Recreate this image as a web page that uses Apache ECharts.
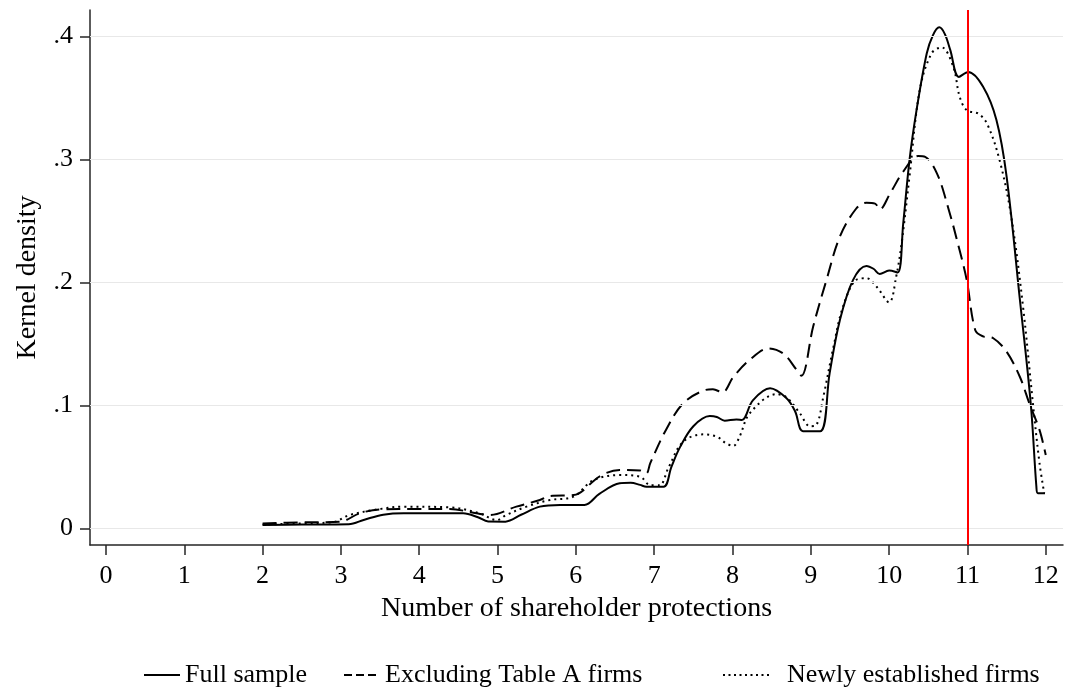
<!DOCTYPE html>
<html>
<head>
<meta charset="utf-8">
<script src="https://cdn.jsdelivr.net/npm/echarts@6/dist/echarts.min.js"></script>
<style>
html,body{margin:0;padding:0;background:#fff;}
#chart{width:1065px;height:691px;}
</style>
</head>
<body>
<div id="chart"></div>
<script>
// ---- data ----
const xTicks = [0,1,2,3,4,5,6,7,8,9,10,11,12];
const yTicks = [0,0.1,0.2,0.3,0.4];
const yTickLabels = ['0','.1','.2','.3','.4'];
const refLineX = 11;
const seriesNames = ['Full sample','Excluding Table A firms','Newly established firms'];

const fullSample = [
 [2.0,0.0027],[2.5,0.003],[3.1,0.0033],[3.3,0.007],[3.54,0.011],[3.8,0.0122],[4.2,0.0122],[4.56,0.0122],
 [4.75,0.009],[4.88,0.0055],[5.1,0.0054],[5.3,0.011],[5.54,0.0176],[5.8,0.019],[6.11,0.019],[6.3,0.028],
 [6.56,0.0366],[6.7,0.037],[6.82,0.0353],[6.9,0.0338],[7.12,0.0338],[7.22,0.05],[7.33,0.066],[7.5,0.083],
 [7.71,0.0913],[7.8,0.0905],[7.9,0.0875],[8.05,0.0885],[8.12,0.088],[8.26,0.104],[8.48,0.1138],[8.69,0.1057],
 [8.8,0.095],[8.9,0.079],[9.12,0.079],[9.24,0.126],[9.37,0.169],[9.54,0.202],[9.71,0.2133],[9.8,0.211],
 [9.88,0.2068],[10.0,0.2095],[10.11,0.208],[10.18,0.248],[10.26,0.2994],[10.35,0.34],[10.48,0.386],
 [10.56,0.401],[10.64,0.4073],[10.71,0.402],[10.78,0.389],[10.89,0.367],[11.01,0.371],[11.2,0.359],
 [11.37,0.332],[11.5,0.286],[11.67,0.1856],[11.81,0.10],[11.88,0.034],[11.9,0.0285],[11.99,0.0285]
];
const excludingTableA = [
 [2.0,0.004],[2.5,0.0048],[2.99,0.0054],[3.24,0.0122],[3.5,0.0154],[4.0,0.0157],[4.39,0.0157],[4.73,0.0122],
 [4.9,0.0108],[5.24,0.0176],[5.54,0.023],[5.67,0.0263],[5.97,0.027],[6.31,0.0425],[6.56,0.0474],[6.82,0.047],
 [6.9,0.0447],[6.95,0.053],[7.15,0.08],[7.37,0.1016],[7.63,0.112],[7.75,0.113],[7.87,0.1105],[8.01,0.123],
 [8.22,0.137],[8.46,0.1463],[8.65,0.142],[8.82,0.1287],[8.88,0.124],[9.03,0.164],[9.2,0.2019],[9.37,0.237],
 [9.58,0.26],[9.71,0.2647],[9.82,0.264],[9.88,0.2593],[10.01,0.272],[10.18,0.29],[10.37,0.3027],[10.46,0.302],
 [10.61,0.2886],[10.75,0.2615],[10.9,0.226],[10.99,0.202],[11.1,0.161],[11.2,0.156],[11.33,0.1545],
 [11.5,0.1436],[11.67,0.123],[11.79,0.1016],[11.92,0.08],[12.0,0.0596]
];
const newlyEstablished = [
 [2.0,0.003],[2.5,0.004],[2.9,0.005],[3.11,0.0108],[3.5,0.0157],[3.8,0.0176],[4.39,0.017],[4.77,0.0122],
 [4.99,0.0067],[5.11,0.0108],[5.37,0.0176],[5.67,0.023],[5.97,0.0257],[6.22,0.039],[6.56,0.0433],[6.82,0.042],
 [6.95,0.035],[7.07,0.035],[7.18,0.049],[7.37,0.0704],[7.63,0.0764],[7.8,0.0745],[7.92,0.069],[8.01,0.067],
 [8.09,0.0745],[8.22,0.0935],[8.56,0.109],[8.69,0.1065],[8.86,0.0935],[8.99,0.083],[9.07,0.084],[9.16,0.107],
 [9.29,0.1477],[9.41,0.18],[9.58,0.202],[9.71,0.2033],[9.84,0.1964],[10.0,0.1837],[10.09,0.2046],[10.16,0.232],
 [10.26,0.286],[10.39,0.356],[10.54,0.386],[10.67,0.391],[10.82,0.375],[10.9,0.351],[10.99,0.34],[11.14,0.337],
 [11.25,0.329],[11.41,0.2994],[11.56,0.253],[11.71,0.18],[11.84,0.099],[11.92,0.053],[11.98,0.0285]
];

// ---- chart ----
const FONT = '"Liberation Serif","Times New Roman",serif';
const AX = '#262626';
const chart = echarts.init(document.getElementById('chart'), null, {renderer:'canvas'});

function lineSeries(name, data, type, z){
  return {
    name, type:'line', data, showSymbol:false, symbol:'none', smooth:0.35,
    z, lineStyle:{color:'#000', width:2, type},
    itemStyle:{color:'#000'}, animation:false
  };
}

function legendAt(left, name, itemWidth, lineType, padLeft){
  return {
    top: 657, left, itemWidth, itemHeight: 14, itemGap: 10,
    data:[name],
    itemStyle:{opacity:0},
    lineStyle:{type: lineType, width:2, color:'#000'},
    textStyle:{fontFamily:FONT, fontSize:26, color:'#000', padding:[0,0,0,padLeft]}
  };
}

chart.setOption({
  backgroundColor:'#fff',
  animation:false,
  grid:{left:90, right:2, top:10, bottom:146},
  legend:[
    legendAt(138, seriesNames[0], 36, 'solid', 0),
    legendAt(338, seriesNames[1], 36, [8,4], 0),
    legendAt(717, seriesNames[2], 47, [2,3.5], 12)
  ],
  xAxis:{
    type:'value', min:-0.204, max:12.22,
    name:'Number of shareholder protections', nameLocation:'middle', nameGap:50,
    nameTextStyle:{fontFamily:FONT, fontSize:28, color:'#000'},
    axisLine:{show:true, onZero:false, lineStyle:{color:AX, width:1.5}},
    axisTick:{show:true, inside:false, length:10, customValues:xTicks, lineStyle:{color:AX, width:1.5}},
    axisLabel:{customValues:xTicks, margin:18, fontFamily:FONT, fontSize:26, color:'#000'},
    splitLine:{show:false}
  },
  yAxis:{
    type:'value', min:-0.01358, max:0.42138,
    name:'Kernel density', nameLocation:'middle', nameGap:48,
    nameTextStyle:{fontFamily:FONT, fontSize:28, color:'#000'},
    axisLine:{show:true, onZero:false, lineStyle:{color:AX, width:1.5}},
    axisTick:{show:true, inside:false, length:10, customValues:yTicks, lineStyle:{color:AX, width:1.5}},
    axisLabel:{customValues:yTicks, margin:17, fontFamily:FONT, fontSize:26, color:'#000',
      formatter:function(v){ const i = yTicks.findIndex(t=>Math.abs(t-v)<1e-9); return i>=0 ? yTickLabels[i] : ''; }},
    splitLine:{show:false}
  },
  series:[
    {
      name:'grid', type:'line', data:[], z:1, silent:true, animation:false,
      markLine:{silent:true, symbol:['none','none'], label:{show:false},
        lineStyle:{color:'#e8e8e8', width:1.2, type:'solid'},
        data: yTicks.map(v=>({yAxis:v}))}
    },
    lineSeries(seriesNames[0], fullSample, 'solid', 3),
    lineSeries(seriesNames[1], excludingTableA, [14,7], 3),
    lineSeries(seriesNames[2], newlyEstablished, [2,4], 3),
    {
      name:'ref', type:'line', data:[], z:5, silent:true, animation:false,
      markLine:{silent:true, symbol:['none','none'], label:{show:false},
        lineStyle:{color:'#ff0000', width:2, type:'solid'},
        data:[{xAxis:refLineX}]}
    }
  ]
});
</script>
</body>
</html>
